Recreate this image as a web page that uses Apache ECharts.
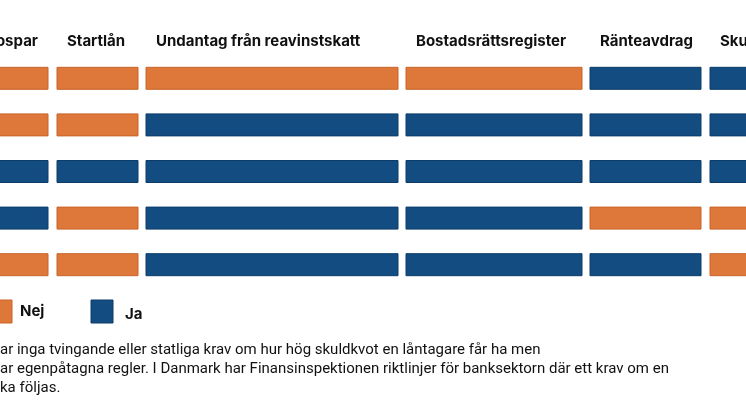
<!DOCTYPE html>
<html><head><meta charset="utf-8">
<script src="https://cdn.jsdelivr.net/npm/echarts@6/dist/echarts.min.js"></script>
<style>html,body{margin:0;padding:0;background:#fff}#main{width:746px;height:419px}</style>
</head><body><div id="main"></div>
<script>
var columns = ["Bospar", "Startlån", "Undantag från reavinstskatt", "Bostadsrättsregister", "Ränteavdrag", "Skuldkvot"];
var colStart = [-60, 57, 146, 406, 590, 710];
var colEnd = [48, 138, 398, 582, 701, 800];
var rows = ["r1", "r2", "r3", "r4", "r5"];
// 0 = Nej, 1 = Ja
var values = [
  [0, 0, 0, 0, 1, 1],
  [0, 0, 1, 1, 1, 1],
  [1, 1, 1, 1, 1, 1],
  [1, 0, 1, 1, 0, 0],
  [0, 0, 1, 1, 1, 0]
];
var legendNames = ["Nej", "Ja"];
var colors = ["#DD773A", "#134C80"];
var notes = [
  "ar inga tvingande eller statliga krav om hur hög skuldkvot en låntagare får ha men",
  "ar egenpåtagna regler. I Danmark har Finansinspektionen riktlinjer för banksektorn där ett krav om en",
  "ka följas."
];

var data = [];
values.forEach(function (r, ri) {
  r.forEach(function (v, ci) { data.push([colStart[ci], colEnd[ci], ri, v]); });
});

var chart = echarts.init(document.getElementById("main"));
var graphic = [];
columns.forEach(function (c, i) {
  graphic.push({type: "text", left: i == 0 ? -14 : colStart[i] + 10, top: 34,
    style: {text: c, font: "bold 15px Inter", fill: "#111"}});
});
graphic.push({type: "rect", shape: {x: -10, y: 300, width: 22, height: 23}, style: {fill: colors[0], stroke: "#c96428"}});
graphic.push({type: "text", left: 20, top: 304, style: {text: legendNames[0], font: "bold 15px Inter", fill: "#111"}});
graphic.push({type: "rect", shape: {x: 91, y: 300, width: 22, height: 23}, style: {fill: colors[1], stroke: "#0c3d6a"}});
graphic.push({type: "text", left: 125, top: 307, style: {text: legendNames[1], font: "bold 15px Inter", fill: "#111"}});
notes.forEach(function (t, i) {
  graphic.push({type: "text", left: 0, top: 343 + i * 19, style: {text: t, font: "15px Roboto", fill: "#111"}});
});

chart.setOption({
  animation: false,
  grid: {left: 0, right: 0, top: 55, bottom: 131},
  xAxis: {type: "value", min: 0, max: 746, show: false},
  yAxis: {type: "category", data: rows, inverse: true, show: false},
  graphic: graphic,
  series: [{
    type: "custom",
    data: data,
    encode: {x: [0, 1], y: 2},
    renderItem: function (params, api) {
      var a = api.coord([api.value(0), api.value(2)]);
      var b = api.coord([api.value(1), api.value(2)]);
      var h = 22;
      var v = api.value(3);
      return {type: "rect", shape: {x: a[0], y: a[1] - h / 2, width: b[0] - a[0], height: h},
        style: {fill: colors[v], stroke: v ? "#0c3d6a" : "#c96428", lineWidth: 1}};
    }
  }]
});
</script></body></html>
